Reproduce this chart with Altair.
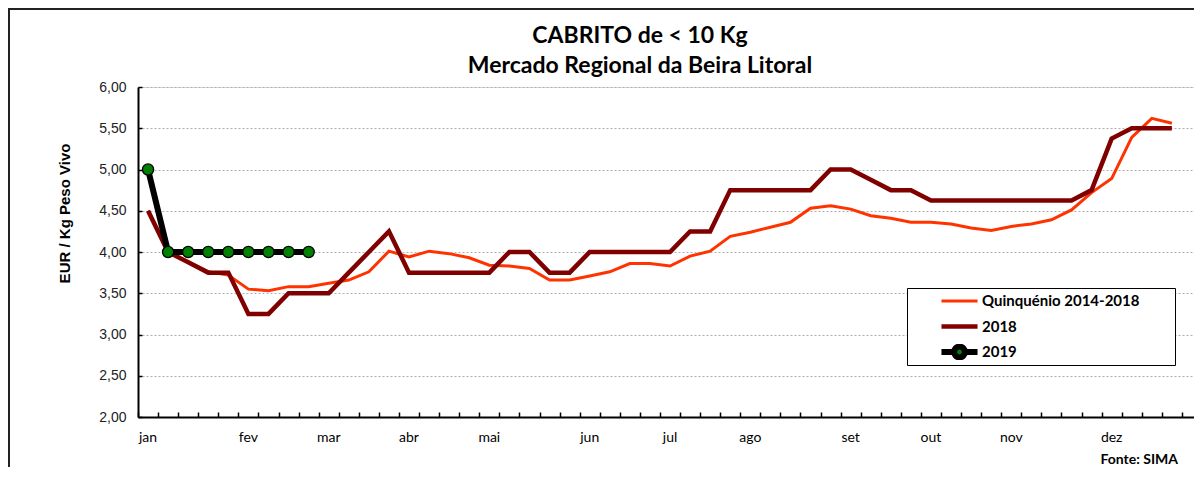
import altair as alt
import pandas as pd

WEEKS = list(range(1, 53))
X_DOMAIN = list(range(1, 54))

QUINQ = [4.50, 4.00, 3.88, 3.76, 3.72, 3.55, 3.53, 3.58, 3.58, 3.62,
         3.66, 3.76, 4.01, 3.94, 4.01, 3.98, 3.93, 3.84, 3.83, 3.80,
         3.66, 3.66, 3.71, 3.76, 3.86, 3.86, 3.83, 3.95, 4.01, 4.19,
         4.24, 4.30, 4.36, 4.53, 4.56, 4.52, 4.44, 4.41, 4.36, 4.36,
         4.34, 4.29, 4.26, 4.31, 4.34, 4.39, 4.51, 4.72, 4.89, 5.39,
         5.62, 5.56]
Y2018 = [4.50, 4.00, 3.875, 3.75, 3.75, 3.25, 3.25, 3.50, 3.50, 3.50,
         3.75, 4.00, 4.25, 3.75, 3.75, 3.75, 3.75, 3.75, 4.00, 4.00,
         3.75, 3.75, 4.00, 4.00, 4.00, 4.00, 4.00, 4.25, 4.25, 4.75,
         4.75, 4.75, 4.75, 4.75, 5.00, 5.00, 4.875, 4.75, 4.75, 4.625,
         4.625, 4.625, 4.625, 4.625, 4.625, 4.625, 4.625, 4.75, 5.375, 5.50,
         5.50, 5.50]
Y2019 = [5.00, 4.00, 4.00, 4.00, 4.00, 4.00, 4.00, 4.00, 4.00]

SERIES = ["Quinquénio 2014-2018", "2018", "2019"]
COLORS = ["#FF3300", "#800000", "#000000"]
WIDTHS = [3, 6, 1.8]
FILLS = ["transparent", "transparent", "#008000"]
LEG_PATH = ("M-1,0H-0.3M0.3,0H1M0.3,0A0.3,0.3,0,1,1,-0.3,0"
            "A0.3,0.3,0,1,1,0.3,0Z")
SHAPES = ["stroke", "stroke", LEG_PATH]

MONTHS = ["jan", "fev", "mar", "abr", "mai", "jun", "jul", "ago",
          "set", "out", "nov", "dez"]
MONTH_WEEKS = [1, 6, 10, 14, 18, 23, 27, 31, 36, 40, 44, 49]
Y_TICKS = [2.0, 2.5, 3.0, 3.5, 4.0, 4.5, 5.0, 5.5, 6.0]

TITLE = ["CABRITO de < 10 Kg", "Mercado Regional da Beira Litoral"]
Y_TITLE = "EUR / Kg Peso Vivo"
SOURCE = "Fonte: SIMA"

rows = []
for s, vals in zip(SERIES, [QUINQ, Y2018, Y2019]):
    for w, v in zip(WEEKS, vals):
        rows.append({"week": w, "value": v, "serie": s})
df = pd.DataFrame(rows)

month_expr = " : ".join(
    f"datum.value == {w} ? '{m}'" for w, m in zip(MONTH_WEEKS, MONTHS)
) + " : ''"

W, H = 1056, 330
BAND_RANGE = [0, 1064]

xscale = alt.Scale(type="band", domain=X_DOMAIN, range=BAND_RANGE,
                   paddingInner=0, paddingOuter=0)
yscale = alt.Scale(domain=[2, 6], nice=False, zero=False)

legend = alt.Legend(
    title=None, orient="none", legendX=769, legendY=201,
    symbolSize=1300, symbolFillColor="transparent", symbolStrokeColor="black",
    labelFont="Lato", labelFontWeight="bold", labelFontSize=15,
    labelColor="black", labelOffset=1, labelLimit=400,
    strokeColor="black", fillColor="white",
    padding=5, rowPadding=9.5, clipHeight=16, symbolOffset=26,
    labelExpr="datum.label + '\u2003\u2003\u2002\u200b'",
)

x_main = alt.X("week:O", scale=xscale, bandPosition=0.5,
               axis=alt.Axis(orient="bottom", title=None, labelExpr=month_expr,
                             labelOverlap=False, ticks=False, grid=False,
                             domainColor="black", domainWidth=2,
                             labelFont="Lato", labelFontSize=14, labelColor="black",
                             labelPadding=13, labelAngle=0))
y_main = alt.Y("value:Q", scale=yscale,
               axis=alt.Axis(orient="left", values=Y_TICKS, format=".2f",
                             labelExpr="replace(datum.label, '.', ',')",
                             grid=True, gridDash=[2, 2], gridColor="#b0b0b0",
                             ticks=False, domainColor="black", domainWidth=2,
                             labelFont="Liberation Sans", labelFontSize=14,
                             labelColor="#222222", labelPadding=12,
                             title=Y_TITLE, titleFont="Liberation Sans",
                             titleFontSize=15, titleFontWeight="bold",
                             titleColor="black", titleX=-66, titleY=126,
                             titleAngle=270, titleAlign="center",
                             titleBaseline="bottom"))

lines = alt.Chart(df).mark_line().encode(
    x=x_main,
    y=y_main,
    stroke=alt.Stroke("serie:N", scale=alt.Scale(domain=SERIES, range=COLORS), legend=legend),
    strokeWidth=alt.StrokeWidth("serie:N", scale=alt.Scale(domain=SERIES, range=WIDTHS), legend=legend),
)

x_ticks = alt.X("week:O", scale=xscale, bandPosition=0.5,
                axis=alt.Axis(orient="bottom", title=None, labels=False, domain=False,
                              ticks=True, tickBand="extent", tickSize=5, tickWidth=1.5,
                              tickColor="black", offset=-5, grid=False))
y_ticks = alt.Y("value:Q", scale=yscale,
                axis=alt.Axis(orient="left", values=Y_TICKS, labels=False, domain=False,
                              grid=False, ticks=True, tickSize=4, tickWidth=1.5,
                              tickColor="black", offset=-4, title=None))

data2019 = alt.Chart(df).transform_filter(alt.datum.serie == "2019")

line2019 = data2019.mark_line(color="black", strokeWidth=3.5).encode(
    x=alt.X("week:O", scale=xscale, bandPosition=0.5, axis=None),
    y=alt.Y("value:Q", scale=yscale, axis=None),
)

points = data2019.mark_point(filled=True, fill="#008000", stroke="black", strokeWidth=1.3,
                             size=125, opacity=1, shape="circle").encode(
    x=x_ticks,
    y=y_ticks,
)

ghost = alt.Chart(df).transform_filter("false").mark_point(filled=True, opacity=1).encode(
    shape=alt.Shape("serie:N", scale=alt.Scale(domain=SERIES, range=SHAPES), legend=legend),
    fill=alt.Fill("serie:N", scale=alt.Scale(domain=SERIES, range=FILLS), legend=legend),
)

source = alt.Chart(pd.DataFrame({"t": [SOURCE]})).mark_text(
    align="right", baseline="alphabetic", font="Lato", fontWeight="bold",
    fontSize=14, color="black"
).encode(x=alt.value(1040), y=alt.value(377), text="t:N")

frame_base = alt.Chart(pd.DataFrame({"a": [0]}))
frame_left = frame_base.mark_rule(color="#222222", strokeWidth=2).encode(
    x=alt.value(-129), y=alt.value(-78), y2=alt.value(700))
frame_top = frame_base.mark_rule(color="#222222", strokeWidth=2).encode(
    x=alt.value(-130), x2=alt.value(1300), y=alt.value(-78))

chart = alt.layer(frame_left, frame_top, lines, line2019, points, ghost, source).resolve_axis(
    x="independent", y="independent"
).properties(
    width=W, height=H,
    title=alt.Title(TITLE, font="Lato", fontSize=23, fontWeight="bold",
                    color="black", anchor="middle", dx=-26, dy=70, offset=0,
                    lineHeight=30),
    autosize=alt.AutoSizeParams(type="none"),
    padding={"left": 130, "top": 79, "right": 0, "bottom": 50},
).configure_view(stroke=None).configure(background="white")

chart.save("out.html", embed_options={"renderer": "svg", "actions": False})
